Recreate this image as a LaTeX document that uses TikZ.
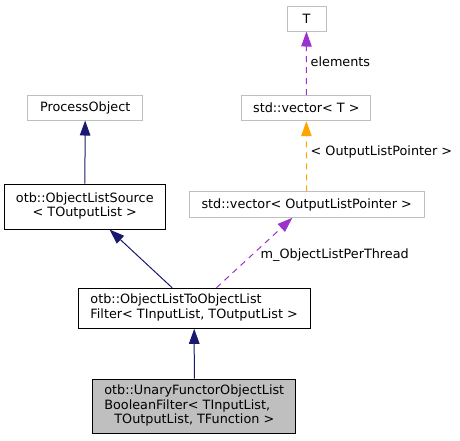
\documentclass[tikz,border=0pt]{standalone}
\usepackage{fontspec}
\setmainfont{DejaVu Sans}
\usetikzlibrary{arrows.meta}
\definecolor{boxgrey}{HTML}{BFBFBF}
\definecolor{inhblue}{HTML}{191970}
\definecolor{usepurple}{HTML}{9A32CD}
\definecolor{tplorange}{HTML}{FFA500}
\newcommand{\lastc}[1]{\multicolumn{1}{@{}c@{}}{#1}}
\begin{document}
\begin{tikzpicture}[x=1pt,y=-1pt,
  txt/.style={font=\fontsize{12.8}{14.7}\selectfont},
  box/.style={txt, draw=black, line width=1pt, inner sep=0pt, align=center},
  gbox/.style={box, draw=boxgrey},
  cbox/.style={box, fill=boxgrey},
  inh/.style={draw=inhblue, line width=1pt, -{Triangle[length=15pt,width=10.5pt,fill=inhblue]}},
  usedash/.style={draw=usepurple, line width=1pt, dash pattern=on 6pt off 5pt, -{Triangle[length=15pt,width=10.5pt,fill=usepurple]}},
  tpldash/.style={draw=tplorange, line width=1pt, dash pattern=on 6pt off 5pt, -{Triangle[length=15pt,width=10.5pt,fill=tplorange]}},
  lbl/.style={txt, anchor=west, inner sep=0pt}]
\useasboundingbox (0,0) rectangle (460,440);
\node[gbox, minimum width=39pt, minimum height=25pt] (T) at (306.5,18.5) {T};
\node[gbox, minimum width=129pt, minimum height=25pt] (vecT) at (306.3,108.2) {std::vector< T >};
\node[gbox, minimum width=235pt, minimum height=25.5pt] (vecOLP) at (306.7,204.5) {std::vector< OutputListPointer >};
\node[gbox, minimum width=115pt, minimum height=25pt] (PO) at (85.2,107.5) {ProcessObject};
\node[box, minimum width=160.5pt, minimum height=45pt] (OLS) at (84.8,206.5)
  {\begin{tabular}{@{}l@{}}otb::ObjectListSource\\\lastc{< TOutputList >}\end{tabular}};
\node[box, minimum width=231.7pt, minimum height=40pt] (OLTOL) at (194.2,308.3)
  {\begin{tabular}{@{}l@{}}otb::ObjectListToObjectList\\\lastc{Filter< TInputList, TOutputList >}\end{tabular}};
\node[cbox, minimum width=203.3pt, minimum height=54.3pt] (UF) at (194.3,406.2)
  {\begin{tabular}{@{}l@{}}otb::UnaryFunctorObjectList\\BooleanFilter< TInputList,\\\lastc{TOutputList, TFunction >}\end{tabular}};
\draw[inh] (OLS) -- (PO);
\draw[inh] (OLTOL) -- (OLS);
\draw[inh] (UF) -- (OLTOL);
\draw[usedash] (OLTOL) -- (vecOLP);
\draw[tpldash] (vecOLP) -- (vecT);
\draw[usedash] (vecT) -- (T);
\node[lbl] (lelem) at (310.5,62) {elements};
\node[lbl] (lolp) at (310.5,152) {< OutputListPointer >};
\node[lbl] (lmol) at (260.5,255) {m\_ObjectListPerThread};
\end{tikzpicture}
\end{document}
